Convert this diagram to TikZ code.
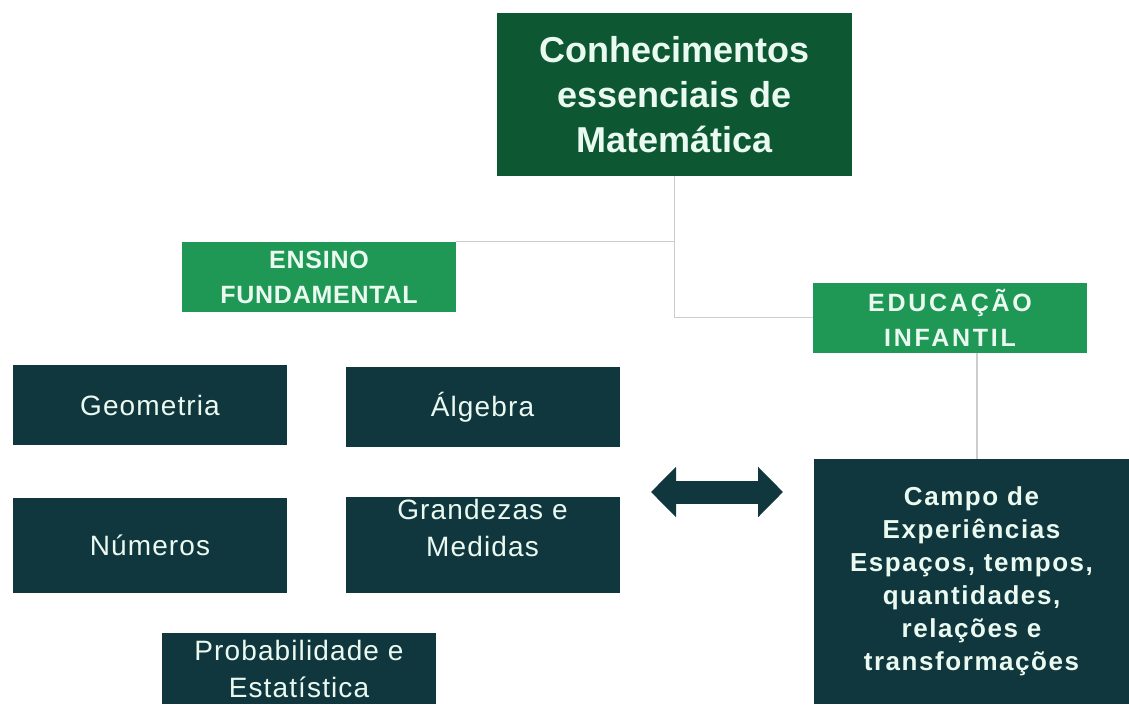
\documentclass[tikz,border=0pt]{standalone}
\usepackage{fontspec}
\setmainfont{Liberation Sans}
\usepackage{xcolor}
\usepackage{tikz}
\usetikzlibrary{arrows.meta}
\usetikzlibrary{calc}

\definecolor{mathgreen}{RGB}{13,88,51}
\definecolor{stagegreen}{RGB}{30,152,84}
\definecolor{fieldblue}{RGB}{17,55,62}
\definecolor{boxtext}{RGB}{234,250,241}
\definecolor{linkgray}{RGB}{205,205,205}

\begin{document}
\begin{tikzpicture}
    \tikzstyle{edge} = [line width=1.2pt, draw=linkgray]
    \tikzstyle{bothways} = [line width=23pt, draw=fieldblue, {Triangle[width=49pt,length=25pt]}-{Triangle[width=49pt,length=25pt]}]
    \tikzstyle{box}=[
      rectangle,
      anchor=center,
      inner sep=0pt,
      align=center,
      text=boxtext,
    ]
    \tikzstyle{main}=[
      box,
      fill=mathgreen,
      minimum width=355pt,
      minimum height=163pt,
      font=\fontsize{36}{45}\selectfont\bfseries,
    ]
    \tikzstyle{stage}=[
      box,
      fill=stagegreen,
      minimum width=274pt,
      minimum height=70pt,
      font=\fontsize{25}{35}\selectfont\bfseries\addfontfeatures{LetterSpace=3},
    ]
    \tikzstyle{topic}=[
      box,
      fill=fieldblue,
      minimum width=274pt,
      minimum height=80pt,
      font=\fontsize{28}{37}\selectfont\addfontfeatures{LetterSpace=4},
    ]
    \tikzstyle{field}=[
      box,
      fill=fieldblue,
      minimum width=315pt,
      minimum height=245pt,
      font=\fontsize{26}{33}\selectfont\bfseries\addfontfeatures{LetterSpace=6},
    ]

    \useasboundingbox (0,0) rectangle (1129pt,-704pt);
    \coordinate (pageAnchor) at (0,0);

    % root
    {
      \node[main] (conhec) at ([xshift=674.5pt, yshift=-94.5pt] pageAnchor) {Conhecimentos\\essenciais de\\Matemática};
    }

    % stages
    {
      \node[stage] (fund) at ([xshift=319pt, yshift=-277pt] pageAnchor) {ENSINO\\FUNDAMENTAL};
      \node[stage, font=\fontsize{25}{35}\selectfont\bfseries\addfontfeatures{LetterSpace=11}] (infantil) at ([xshift=950pt, yshift=-317.5pt] pageAnchor) {EDUCAÇÃO\\INFANTIL};

      \draw[edge] (conhec.south) |- (fund.north east);
      \draw[edge] (conhec.south) |- (infantil.west);
    }

    % ensino fundamental
    {
      \node[topic] (fund1) at ([xshift=150pt, yshift=-405pt] pageAnchor) {Geometria};
      \node[topic] (fund2) at ([xshift=482.5pt, yshift=-407pt] pageAnchor) {Álgebra};
      \node[topic, minimum height=95pt] (fund3) at ([xshift=150pt, yshift=-545.5pt] pageAnchor) {Números};
      \node[topic, minimum height=96pt, label={[box, font=\fontsize{28}{37}\selectfont\addfontfeatures{LetterSpace=4}, yshift=17.5pt]center:{Grandezas e\\Medidas}}] (fund4) at ([xshift=482.5pt, yshift=-545pt] pageAnchor) {};
      \node[topic, minimum height=71pt, text depth=-4pt] (fund5) at ([xshift=299pt, yshift=-668.5pt] pageAnchor) {Probabilidade e\\Estatística};
    }

    % educacao infantil
    {
      \node[field] (infantil1) at ([xshift=971.5pt, yshift=-581.5pt] pageAnchor) {Campo de\\Experiências\\Espaços, tempos,\\quantidades,\\relações e\\transformações};

      \coordinate (drop) at ([xshift=27pt] infantil.south);
      \draw[edge] (drop) -- (drop |- infantil1.north);
    }

    % link
    {
      \coordinate (linkL) at ([xshift=651pt, yshift=-492pt] pageAnchor);
      \coordinate (linkR) at ([xshift=783pt, yshift=-492pt] pageAnchor);
      \draw[bothways] (linkL) -- (linkR);
    }
\end{tikzpicture}
\end{document}
